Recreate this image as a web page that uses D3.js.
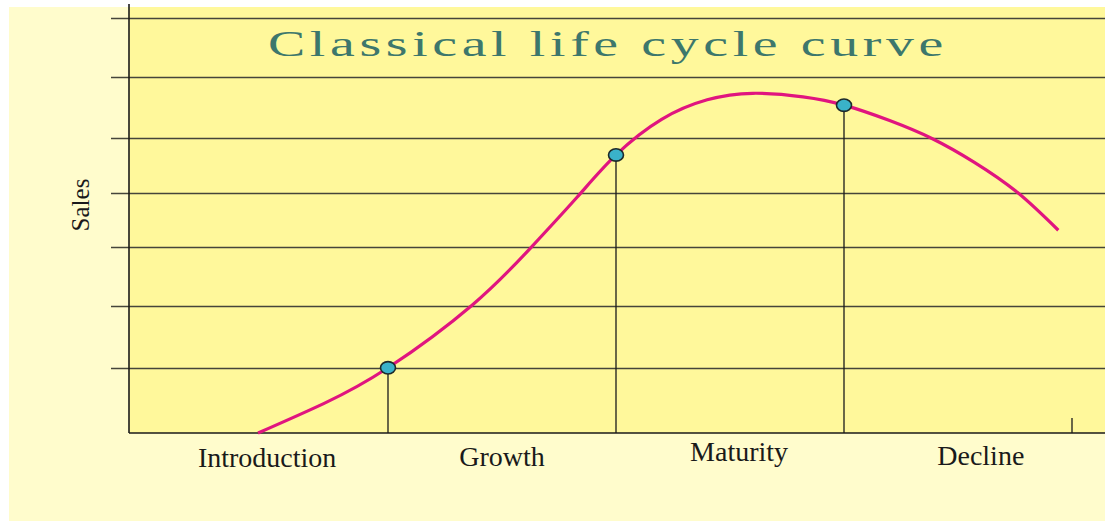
<!DOCTYPE html>
<html>
<head>
<meta charset="utf-8">
<script src="https://cdn.jsdelivr.net/npm/d3@7"></script>
<style>
  html, body { margin: 0; padding: 0; background: #ffffff; }
  svg { display: block; }
</style>
</head>
<body>
<svg id="chart" width="1105" height="521"></svg>
<script>
// Stages of the product life cycle (stage boundaries fall on 1, 2, 3, 4)
const stages = ["Introduction", "Growth", "Maturity", "Decline"];
const stageEnds = [1, 2, 3, 4];

// Sales curve: time (in stage units) and sales level
const curveTime  = [0.43, 0.72, 1.00, 1.37, 1.63, 1.83, 2.00, 2.20, 2.40, 2.60, 2.82, 3.00, 3.20, 3.39, 3.57, 3.76, 3.94];
const curveSales = [0.00, 0.50, 1.10, 2.16, 3.14, 3.98, 4.69, 5.29, 5.62, 5.73, 5.67, 5.53, 5.27, 4.96, 4.57, 4.06, 3.42];

// Transition points between stages
const markerTime  = [1, 2, 3];
const markerSales = [1.10, 4.69, 5.53];

// Horizontal grid levels on the sales axis
const gridLevels = [1.10, 2.14, 3.14, 4.05, 4.98, 6.00, 7.00];

const title = "Classical life cycle curve";
const yTitle = "Sales";

// ---- layout ----
const W = 1105, H = 521;
const panel = { x: 9, y: 7 };
const plot = { left: 129, right: 1105, top: 7, bottom: 433 };
const labelAt = [0.47, 1.50, 2.54, 3.60];      // stage label anchors (time units)
const labelBase = [467, 466, 461, 465];         // label baselines

const svg = d3.select("#chart");

const x = d3.scaleLinear().domain([0, 4]).range([160, 1072]);
const y = d3.scaleLinear().domain([0, 7]).range([plot.bottom, 18]);

// background panel
svg.append("rect")
  .attr("x", panel.x).attr("y", panel.y)
  .attr("width", W - panel.x).attr("height", H - panel.y)
  .attr("fill", "#fffccc");

// plot area
svg.append("rect")
  .attr("x", plot.left).attr("y", plot.top)
  .attr("width", plot.right - plot.left).attr("height", plot.bottom - plot.top)
  .attr("fill", "#fff89b");

// gridlines with left ticks
svg.append("g").selectAll("line")
  .data(gridLevels)
  .join("line")
  .attr("x1", 111).attr("x2", plot.right)
  .attr("y1", d => Math.round(y(d)) + 0.5)
  .attr("y2", d => Math.round(y(d)) + 0.5)
  .attr("stroke", "#45453a")
  .attr("stroke-width", 1.3);

// y axis line
svg.append("line")
  .attr("x1", plot.left).attr("x2", plot.left)
  .attr("y1", 4).attr("y2", plot.bottom)
  .attr("stroke", "#1a1a1a").attr("stroke-width", 1.6);

// x axis line
svg.append("line")
  .attr("x1", plot.left).attr("x2", plot.right)
  .attr("y1", plot.bottom).attr("y2", plot.bottom)
  .attr("stroke", "#1a1a1a").attr("stroke-width", 1.6);

// drop lines from each transition point to the axis
svg.append("g").selectAll("line")
  .data(markerTime.map((t, i) => ({ t, s: markerSales[i] })))
  .join("line")
  .attr("x1", d => x(d.t)).attr("x2", d => x(d.t))
  .attr("y1", d => y(d.s)).attr("y2", plot.bottom)
  .attr("stroke", "#1a1a1a").attr("stroke-width", 1.3);

// closing tick at end of the decline stage
svg.append("line")
  .attr("x1", x(stageEnds[3])).attr("x2", x(stageEnds[3]))
  .attr("y1", plot.bottom - 15).attr("y2", plot.bottom)
  .attr("stroke", "#1a1a1a").attr("stroke-width", 1.3);

// life cycle curve
const line = d3.line()
  .x(d => x(d[0]))
  .y(d => y(d[1]))
  .curve(d3.curveNatural);

svg.append("path")
  .datum(curveTime.map((t, i) => [t, curveSales[i]]))
  .attr("d", line)
  .attr("fill", "none")
  .attr("stroke", "#e0157f")
  .attr("stroke-width", 3.2)
  .attr("stroke-linecap", "butt");

// transition markers
svg.append("g").selectAll("ellipse")
  .data(markerTime.map((t, i) => ({ t, s: markerSales[i] })))
  .join("ellipse")
  .attr("cx", d => x(d.t))
  .attr("cy", d => y(d.s))
  .attr("rx", 7.5).attr("ry", 6.2)
  .attr("fill", "#3ab2c9")
  .attr("stroke", "#1e2a2a")
  .attr("stroke-width", 1.6);

// title
svg.append("text")
  .attr("transform", "translate(608,56) scale(1.55,1)")
  .attr("text-anchor", "middle")
  .attr("font-family", "'Liberation Serif', 'Times New Roman', serif")
  .attr("font-size", 36)
  .attr("letter-spacing", "3px")
  .attr("fill", "#3d776c")
  .text(title);

// stage labels
svg.append("g").selectAll("text")
  .data(stages)
  .join("text")
  .attr("x", (d, i) => x(labelAt[i]))
  .attr("y", (d, i) => labelBase[i])
  .attr("text-anchor", "middle")
  .attr("font-family", "'Liberation Serif', 'Times New Roman', serif")
  .attr("font-size", 28)
  .attr("fill", "#1a1a1a")
  .text(d => d);

// y axis title
svg.append("text")
  .attr("transform", "translate(89,205) rotate(-90)")
  .attr("text-anchor", "middle")
  .attr("font-family", "'Liberation Serif', 'Times New Roman', serif")
  .attr("font-size", 25)
  .attr("fill", "#1a1a1a")
  .text(yTitle);
</script>
</body>
</html>
